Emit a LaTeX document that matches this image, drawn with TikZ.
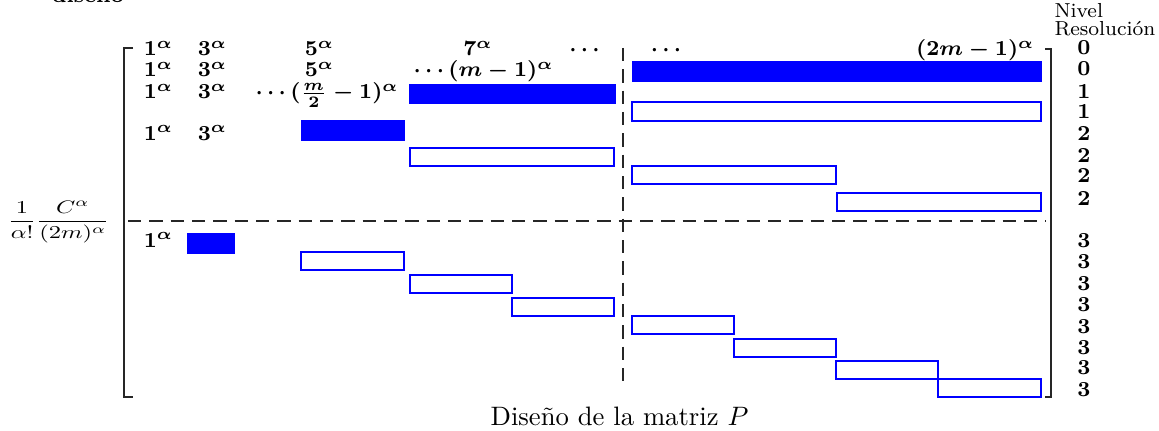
\documentclass[tikz,border=0pt]{standalone}
\usepackage{graphicx}
\begin{document}
\begin{tikzpicture}[x=0.375pt,y=-0.375pt,
  lab/.style={font=\footnotesize\boldmath, inner sep=0pt},
  lvl/.style={font=\footnotesize\bfseries, inner sep=0pt, anchor=base},
  hdr/.style={font=\fontsize{7.6}{9}\selectfont, inner sep=0pt, anchor=base west},
  fillbox/.style={fill=blue, draw=blue, line width=0.3pt},
  outbox/.style={draw=blue, line width=0.8pt},
  brk/.style={line width=0.8pt, black!85},
  dsh/.style={line width=0.5pt, black!85, dash pattern=on 5pt off 3pt}]
\useasboundingbox (0,0) rectangle (1159,431);
% clipped fragment at the top
\node[font=\footnotesize\bfseries, inner sep=0pt, anchor=base] (frag) at (88,3) {diseño};
% brackets
\draw[brk] (133,48) -- (124,48) -- (124,397) -- (133,397);
\draw[brk] (1045,49) -- (1051,49) -- (1051,397) -- (1045,397);
% dashed separators
\draw[dsh] (128,221) -- (1046,221);
\draw[dsh] (623,48) -- (623,388);
% filled boxes
\draw[fillbox] (632,61) rectangle (1041,81);
\draw[fillbox] (409,84) rectangle (615,103);
\draw[fillbox] (301,120) rectangle (404,140);
\draw[fillbox] (187,233) rectangle (234,253);
% outlined boxes
\draw[outbox] (632,102) rectangle (1041,121);
\draw[outbox] (410,148) rectangle (614,166);
\draw[outbox] (632,166) rectangle (836,184);
\draw[outbox] (837,193) rectangle (1041,211);
\draw[outbox] (301,252) rectangle (404,270);
\draw[outbox] (410,275) rectangle (512,293);
\draw[outbox] (512,298) rectangle (614,316);
\draw[outbox] (632,316) rectangle (734,334);
\draw[outbox] (734,339) rectangle (836,357);
\draw[outbox] (836,361) rectangle (938,379);
\draw[outbox] (938,379) rectangle (1041,397);
% row labels
\node[lab, anchor=base] (r1a) at (158.5,56) {$1^{\alpha}$};
\node[lab, anchor=base] (r1b) at (212.5,56) {$3^{\alpha}$};
\node[lab, anchor=base] (r1c) at (319.5,56) {$5^{\alpha}$};
\node[lab, anchor=base] (r1d) at (478,56) {$7^{\alpha}$};
\node[lab, anchor=base] (r1e) at (584.5,56) {$\cdots$};
\node[lab, anchor=base] (r1f) at (666,56) {$\cdots$};
\node[lab, anchor=base east] (r1g) at (1035,56) {$(2m-1)^{\alpha}$};
\node[lab, anchor=base] (r2a) at (158.5,77) {$1^{\alpha}$};
\node[lab, anchor=base] (r2b) at (212.5,77) {$3^{\alpha}$};
\node[lab, anchor=base] (r2c) at (319.5,77) {$5^{\alpha}$};
\node[lab, anchor=base west] (r2d) at (413,77) {$\cdots(m-1)^{\alpha}$};
\node[lab, anchor=base] (r3a) at (158.5,99) {$1^{\alpha}$};
\node[lab, anchor=base] (r3b) at (212.5,99) {$3^{\alpha}$};
\node[lab, anchor=base west] (r3c) at (255,99) {$\cdots(\frac{m}{2}-1)^{\alpha}$};
\node[lab, anchor=base] (r4a) at (158.5,140) {$1^{\alpha}$};
\node[lab, anchor=base] (r4b) at (212.5,140) {$3^{\alpha}$};
\node[lab, anchor=base] (r5a) at (158.5,247) {$1^{\alpha}$};
% factor on the left
\node[inner sep=0pt] (fac) at (58.5,222) {\scalebox{0.92}[0.68]{$\displaystyle\frac{1}{\alpha!}\frac{C^{\alpha}}{(2m)^{\alpha}}$}};
% level column
\node[hdr] (niv) at (1054,18) {Nivel};
\node[hdr] (res) at (1054,36) {Resolución};
\node[lvl] (l1) at (1084,55) {0};
\node[lvl] (l2) at (1084,76) {0};
\node[lvl] (l3) at (1084,99) {1};
\node[lvl] (l4) at (1084,119) {1};
\node[lvl] (l5) at (1084,140) {2};
\node[lvl] (l6) at (1084,162) {2};
\node[lvl] (l7) at (1084,183) {2};
\node[lvl] (l8) at (1084,205) {2};
\node[lvl] (l9) at (1084,247) {3};
\node[lvl] (l10) at (1084,268) {3};
\node[lvl] (l11) at (1084,290) {3};
\node[lvl] (l12) at (1084,311) {3};
\node[lvl] (l13) at (1084,333) {3};
\node[lvl] (l14) at (1084,354) {3};
\node[lvl] (l15) at (1084,374) {3};
\node[lvl] (l16) at (1084,396) {3};
% caption
\node[inner sep=0pt, anchor=base] (cap) at (619.5,425) {Diseño de la matriz $P$};
\end{tikzpicture}
\end{document}
